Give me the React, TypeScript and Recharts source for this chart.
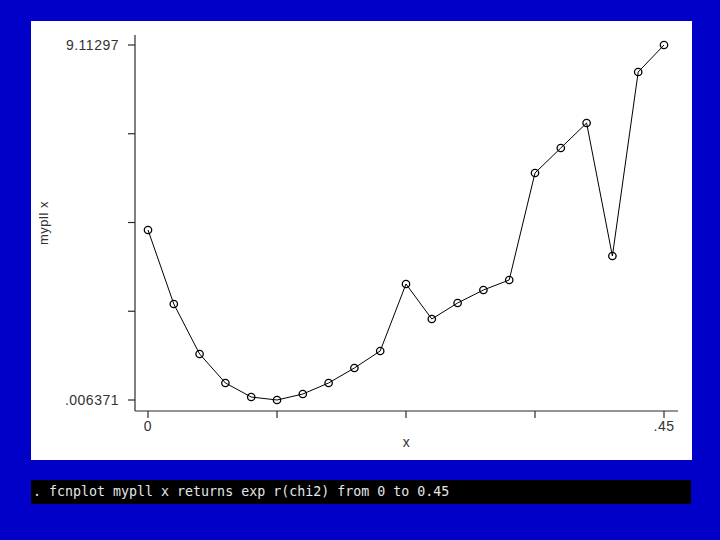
import { LineChart, Line, XAxis, YAxis } from 'recharts'

const X_VALUES = [
  0, 0.0225, 0.045, 0.0675, 0.09, 0.1125, 0.135, 0.1575, 0.18, 0.2025, 0.225,
  0.2475, 0.27, 0.2925, 0.315, 0.3375, 0.36, 0.3825, 0.405, 0.4275, 0.45,
]
const MYPLL = [
  4.367, 2.469, 1.187, 0.443, 0.083, 0.006371, 0.16, 0.443, 0.827, 1.263, 2.982,
  2.084, 2.495, 2.828, 3.085, 5.83, 6.471, 7.112, 3.7, 8.42, 9.11297,
]
const X_TICKS = [0, 0.1125, 0.225, 0.3375, 0.45]
const X_TICK_LABELS = ['0', '', '', '', '.45']
const Y_TICKS = [0.006371, 2.283021, 4.55967, 6.83632, 9.11297]
const Y_TICK_LABELS = ['.006371', '', '', '', '9.11297']

const data = X_VALUES.map((x, i) => ({ x, y: MYPLL[i] }))

const BLUE = '#0000c8'
const AXIS = '#2a2a2a'
const tickStyle = {
  fontSize: 14,
  fill: '#333333',
  letterSpacing: 0.5,
  fontFamily: 'Liberation Sans, Arial, sans-serif',
}

export default function App() {
  return (
    <div style={{ position: 'fixed', left: 0, top: 0, width: 720, height: 540, background: BLUE }}>
      <div style={{ position: 'absolute', left: 31, top: 21, width: 661, height: 439, background: '#fff' }}>
        <LineChart width={661} height={439} data={data} margin={{ top: 14, right: 14, bottom: 9, left: 12 }}>
          <XAxis
            dataKey="x"
            type="number"
            domain={[0, 0.45]}
            ticks={X_TICKS}
            tickFormatter={(v, i) => X_TICK_LABELS[i] ?? ''}
            padding={{ left: 13, right: 14 }}
            height={40}
            tickSize={7}
            tickMargin={3}
            stroke={AXIS}
            strokeWidth={1.2}
            tick={tickStyle}
            interval={0}
            label={{ value: 'x', position: 'insideBottom', offset: 4, style: { ...tickStyle } }}
          />
          <YAxis
            type="number"
            domain={[0.006371, 9.11297]}
            ticks={Y_TICKS}
            tickFormatter={(v, i) => Y_TICK_LABELS[i] ?? ''}
            padding={{ top: 10, bottom: 11 }}
            width={92}
            tickSize={7}
            tickMargin={9}
            stroke={AXIS}
            strokeWidth={1.2}
            tick={tickStyle}
            interval={0}
            label={{
              value: 'mypll x',
              angle: -90,
              position: 'insideLeft',
              offset: 0,
              style: { ...tickStyle, fontSize: 13, textAnchor: 'middle' },
            }}
          />
          <Line
            dataKey="y"
            stroke="#000"
            strokeWidth={1}
            isAnimationActive={false}
            dot={{ r: 3.7, stroke: '#000', strokeWidth: 1.3, fill: 'none' }}
          />
        </LineChart>
      </div>
      <div
        style={{
          position: 'absolute',
          left: 31,
          top: 480,
          width: 660,
          height: 24,
          background: '#000',
          color: '#e6e6e6',
          fontFamily: 'DejaVu Sans Mono, Liberation Mono, monospace',
          fontSize: 13.3,
          lineHeight: '24px',
          paddingLeft: 2,
          boxSizing: 'border-box',
          whiteSpace: 'pre',
        }}
      >
        . fcnplot mypll x returns exp r(chi2) from 0 to 0.45
      </div>
    </div>
  )
}
